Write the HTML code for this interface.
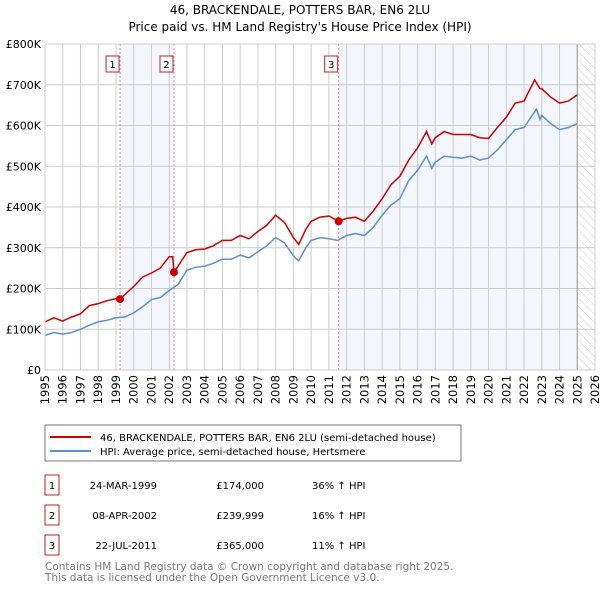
<!DOCTYPE html>
<html><head><meta charset="utf-8"><style>
body{margin:0;background:#fff;font-family:"DejaVu Sans","Liberation Sans",sans-serif;}
svg text{font-family:"DejaVu Sans","Liberation Sans",sans-serif;}
</style></head><body>
<svg id="c" width="600" height="590" xmlns="http://www.w3.org/2000/svg">
<defs><pattern id="hatch" width="6" height="6" patternUnits="userSpaceOnUse" patternTransform="rotate(-45)"><line x1="0" y1="0" x2="0" y2="6" stroke="#ccc" stroke-width="1"/></pattern></defs>
<text x="300" y="14" text-anchor="middle" font-size="12">46, BRACKENDALE, POTTERS BAR, EN6 2LU</text>
<text x="300" y="31" text-anchor="middle" font-size="12">Price paid vs. HM Land Registry's House Price Index (HPI)</text>
<g id="plot"></g>
<rect x="45" y="425" width="416" height="36" fill="#fff" stroke="#777"/>
<line x1="50" y1="437" x2="91" y2="437" stroke="#cc0000" stroke-width="2"/>
<text x="100" y="441" font-size="10">46, BRACKENDALE, POTTERS BAR, EN6 2LU (semi-detached house)</text>
<line x1="50" y1="451" x2="91" y2="451" stroke="#5b8fd6" stroke-width="2"/>
<text x="100" y="455" font-size="10">HPI: Average price, semi-detached house, Hertsmere</text>
<g id="table" font-size="10"></g>
<text x="45" y="570" font-size="10.5" fill="#777">Contains HM Land Registry data © Crown copyright and database right 2025.</text>
<text x="45" y="581" font-size="10.5" fill="#777">This data is licensed under the Open Government Licence v3.0.</text>
</svg>
<script>
const yTicks=[0,100,200,300,400,500,600,700,800];
const yTickLabels=["£0","£100K","£200K","£300K","£400K","£500K","£600K","£700K","£800K"];
const years=[1995,1996,1997,1998,1999,2000,2001,2002,2003,2004,2005,2006,2007,2008,2009,2010,2011,2012,2013,2014,2015,2016,2017,2018,2019,2020,2021,2022,2023,2024,2025,2026];
const hpiT=[1995,1995.5,1996,1996.5,1997,1997.5,1998,1998.5,1999,1999.5,2000,2000.5,2001,2001.5,2002,2002.5,2003,2003.5,2004,2004.5,2005,2005.5,2006,2006.5,2007,2007.5,2008,2008.5,2009,2009.3,2009.7,2010,2010.5,2011,2011.5,2012,2012.5,2013,2013.5,2014,2014.5,2015,2015.5,2016,2016.5,2016.8,2017,2017.5,2018,2018.5,2019,2019.5,2020,2020.5,2021,2021.5,2022,2022.7,2022.9,2023,2023.5,2024,2024.5,2025];
const hpiV=[85,92,88,92,100,110,118,122,128,130,140,155,173,178,195,210,245,252,255,262,272,272,282,275,290,305,325,312,280,268,300,318,325,322,318,330,335,330,350,380,405,420,465,490,525,495,510,525,522,520,525,515,520,540,565,590,595,640,615,625,605,590,595,605];
const priceT=[1995,1995.5,1996,1996.5,1997,1997.5,1998,1998.5,1999,1999.23,1999.5,2000,2000.5,2001,2001.5,2002,2002.2,2002.27,2002.5,2003,2003.5,2004,2004.5,2005,2005.5,2006,2006.5,2007,2007.5,2008,2008.5,2009,2009.3,2009.7,2010,2010.5,2011,2011.55,2012,2012.5,2013,2013.5,2014,2014.5,2015,2015.5,2016,2016.5,2016.8,2017,2017.5,2018,2018.5,2019,2019.5,2020,2020.5,2021,2021.5,2022,2022.6,2022.9,2023,2023.5,2024,2024.5,2025];
const priceV=[118,128,120,130,138,158,163,170,175,174,185,205,228,238,250,278,278,240,255,288,295,297,305,318,318,330,322,340,355,380,362,325,308,345,365,375,378,365,372,375,365,390,420,455,475,515,545,585,555,570,585,578,578,578,570,568,595,620,655,660,712,690,690,670,655,660,675];
const saleT=[1999.23,2002.27,2011.55];
const saleV=[174,240,365];
const saleLabels=["1","2","3"];
const saleDates=["24-MAR-1999","08-APR-2002","22-JUL-2011"];
const salePrices=["£174,000","£239,999","£365,000"];
const saleHpi=["36% ↑ HPI","16% ↑ HPI","11% ↑ HPI"];
const X0=45,X1=595,Y0=370,Y1=44,T0=1995,T1=2026,VMAX=800,END=2025.0;
const xs=t=>X0+(t-T0)/(T1-T0)*(X1-X0);
const ys=v=>Y0-v/VMAX*(Y0-Y1);
const NS="http://www.w3.org/2000/svg";
function mk(tag,attrs,parent){const e=document.createElementNS(NS,tag);for(const k in attrs)e.setAttribute(k,attrs[k]);parent.appendChild(e);return e;}
const g=document.getElementById('plot');
let r;
r=mk('rect',{x:xs(saleT[0]),y:Y1,width:xs(saleT[1])-xs(saleT[0]),height:Y0-Y1,fill:'#f3f6fd'},g);


r=mk('rect',{x:xs(saleT[2]),y:Y1,width:xs(END)-xs(saleT[2]),height:Y0-Y1,fill:'#f3f6fd'},g);


r=mk('rect',{x:xs(END),y:Y1,width:X1-xs(END),height:Y0-Y1,fill:'url(#hatch)'},g);


years.forEach(y=>{const l=mk('line',{x1:xs(y),x2:xs(y),y1:Y1,y2:Y0,stroke:'#ccc','stroke-width':1},g);


const t=mk('text',{x:0,y:0,'font-size':11.5,'text-anchor':'end',transform:`translate(${xs(y)+4},${Y0+5}) rotate(-90)`},g);t.textContent=y;

});
yTicks.forEach((v,i)=>{const l=mk('line',{x1:X0,x2:X1,y1:ys(v),y2:ys(v),stroke:'#ccc','stroke-width':1},g);


const t=mk('text',{x:X0-4,y:ys(v)+4,'font-size':11,'text-anchor':'end'},g);t.textContent=yTickLabels[i];

});
r=mk('line',{x1:xs(END),x2:xs(END),y1:Y1,y2:Y0,stroke:'#999','stroke-width':1},g);


saleT.forEach((t,i)=>{const l=mk('line',{x1:xs(t),x2:xs(t),y1:Y1,y2:Y0,stroke:'#e88','stroke-width':1,'stroke-dasharray':'2,2'},g);


const b=mk('rect',{x:xs(t)-14,y:56,width:13,height:16,fill:'#fff',stroke:'#b22'},g);


const tx=mk('text',{x:xs(t)-7.5,y:68,'font-size':10,'text-anchor':'middle'},g);tx.textContent=saleLabels[i];

});
const pts=(T,V)=>T.map((t,i)=>xs(t).toFixed(1)+','+ys(V[i]).toFixed(1)).join(' ');
r=mk('polyline',{points:pts(hpiT,hpiV),fill:'none',stroke:'#5b8fd6','stroke-width':1.5},g);


r=mk('polyline',{points:pts(priceT,priceV),fill:'none',stroke:'#cc0000','stroke-width':1.5},g);


saleT.forEach((t,i)=>{const c=mk('circle',{cx:xs(t),cy:ys(saleV[i]),r:4,fill:'#cc0000'},g);

});
r=mk('rect',{x:X0,y:Y1,width:X1-X0,height:Y0-Y1,fill:'none',stroke:'#ccc'},g);


const tb=document.getElementById('table');
saleLabels.forEach((lab,i)=>{const y0=475+i*30;
const b=mk('rect',{x:45,y:y0,width:14,height:20,fill:'#fff',stroke:'#b22'},tb);


const cols=[[52,lab,'middle'],[157,saleDates[i],'end'],[264,salePrices[i],'end'],[312,saleHpi[i],'start']];
cols.forEach(([x,s,a],j)=>{const t=mk('text',{x:x,y:y0+14,'text-anchor':a},tb);t.textContent=s;

});});
</script>
</body></html>
